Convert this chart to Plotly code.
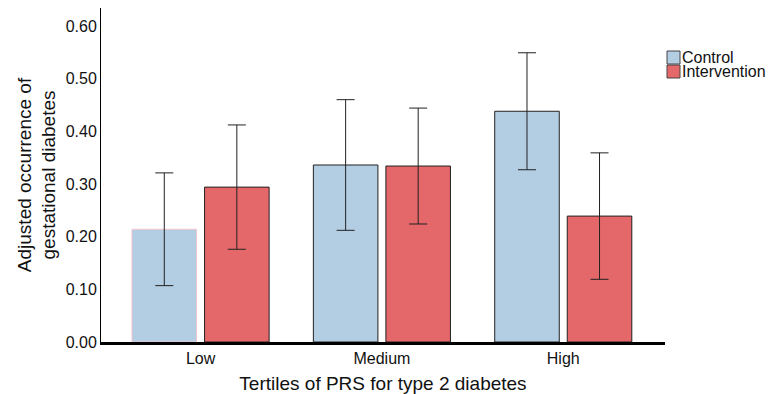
import plotly.graph_objects as go

categories = ["Low", "Medium", "High"]
series_names = ["Control", "Intervention"]
control = [0.214, 0.336, 0.438]
control_err = [0.107, 0.124, 0.111]
intervention = [0.294, 0.334, 0.239]
intervention_err = [0.118, 0.110, 0.120]
y_ticks = [0.0, 0.1, 0.2, 0.3, 0.4, 0.5, 0.6]
y_tick_labels = ["0.00", "0.10", "0.20", "0.30", "0.40", "0.50", "0.60"]

font = "Liberation Sans, Arial, Helvetica, sans-serif"
colors = ["#b3cde3", "#e4676a"]

# the page body has an 8px margin, so the figure is offset by (8, 8) in the window
OFF = 8
W, H = 781 - OFF, 394 - OFF
L, T = 101 - OFF, 8 - OFF
plot_bottom = 342 - OFF
plot_right = 665 - OFF
R, B = W - plot_right, H - plot_bottom
pw, ph = W - L - R, H - T - B


def px_x(px):
    return (px - OFF - L) / pw


def px_y(py):
    return (plot_bottom - (py - OFF)) / ph


fig = go.Figure()
fig.add_trace(go.Bar(
    x=categories, y=control, name=series_names[0],
    marker=dict(color=colors[0],
                line=dict(color=["#f2c4cf", "#222222", "#222222"], width=1)),
    error_y=dict(type="data", array=control_err, color="#222222", thickness=1, width=9),
))
fig.add_trace(go.Bar(
    x=categories, y=intervention, name=series_names[1],
    marker=dict(color=colors[1], line=dict(color="#222222", width=1)),
    error_y=dict(type="data", array=intervention_err, color="#222222", thickness=1, width=9),
))

# legend drawn manually to match the compact reference legend
shapes = []
annotations = []
rows = [(51, 64), (65, 78)]
for name, col, (y0, y1) in zip(series_names, colors, rows):
    shapes.append(dict(type="rect", xref="paper", yref="paper",
                       x0=px_x(667), x1=px_x(680), y0=px_y(y1), y1=px_y(y0),
                       fillcolor=col, line=dict(color="#444444", width=1)))
    annotations.append(dict(text=name, xref="paper", yref="paper",
                            x=px_x(681), y=px_y((y0 + y1) / 2 + 0.5),
                            xanchor="left", yanchor="middle", showarrow=False,
                            borderpad=0,
                            font=dict(size=16, family=font, color="#111111")))

fig.update_layout(
    width=W, height=H,
    margin=dict(l=L, r=R, t=T, b=B),
    paper_bgcolor="white", plot_bgcolor="white",
    barmode="group", bargap=0.2, bargroupgap=0.11,
    font=dict(family=font, color="#111111", size=16),
    showlegend=False,
    shapes=shapes, annotations=annotations,
)
fig.update_xaxes(
    range=[-0.549, 2.561], showline=True, linecolor="black", linewidth=3,
    ticks="", showgrid=False, zeroline=False, automargin=False,
    tickfont=dict(size=16, family=font),
    title=dict(text="Tertiles of PRS for type 2 diabetes", font=dict(size=19, family=font), standoff=12),
)
fig.update_yaxes(
    range=[0, 0.634], showline=True, linecolor="black", linewidth=1,
    tickvals=y_ticks, ticktext=y_tick_labels, ticks="", showgrid=False, zeroline=False,
    automargin=False,
    tickfont=dict(size=16, family=font),
    title=dict(text="Adjusted occurrence of<br>gestational diabetes", font=dict(size=19, family=font), standoff=4),
)

fig.write_html("out.html")
